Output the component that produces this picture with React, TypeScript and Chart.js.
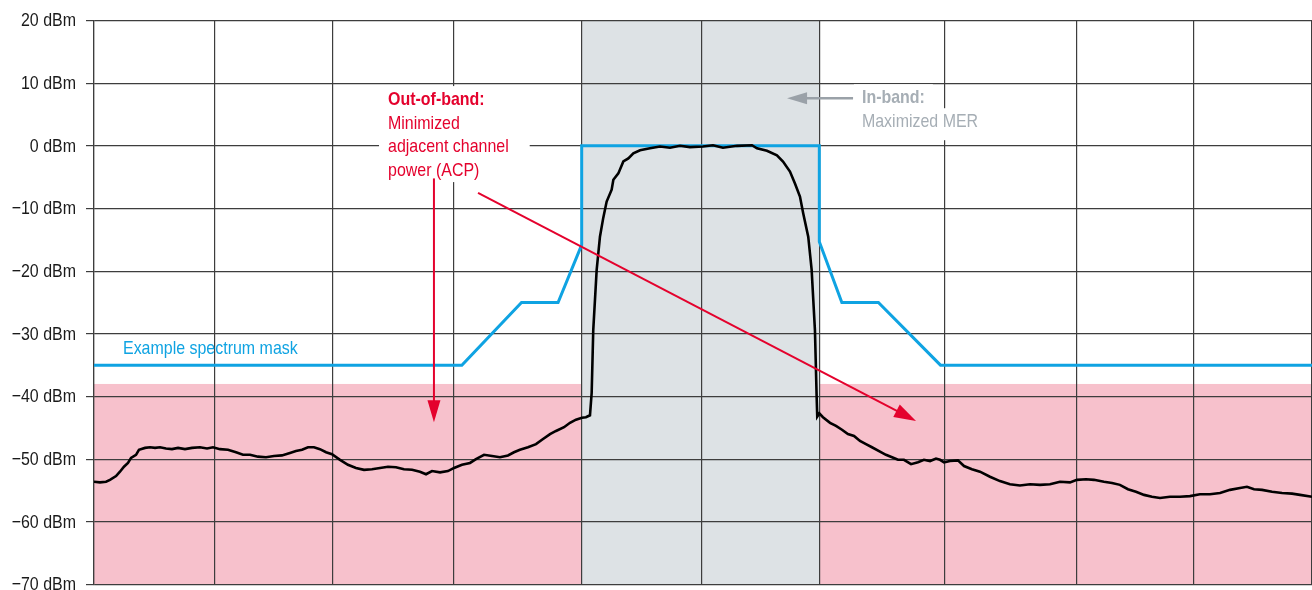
import React, { useEffect, useRef } from 'react';
import { Chart, registerables } from 'chart.js';

Chart.register(...registerables);

// ---------- data ----------
const yTickValues = [-70, -60, -50, -40, -30, -20, -10, 0, 10, 20];
const yTickLabels = ['\u221270 dBm', '\u221260 dBm', '\u221250 dBm', '\u221240 dBm', '\u221230 dBm', '\u221220 dBm', '\u221210 dBm', '0 dBm', '10 dBm', '20 dBm'];
// frequency axis in grid divisions (grid lines as drawn in the reference)
const xGridDivisions = [0, 0.99, 1.96, 2.95, 4.0, 4.99, 5.96, 6.98, 8.07, 9.03, 10];

const traceFreq = [
  0, 0.049, 0.099, 0.131, 0.181, 0.213, 0.246, 0.279, 0.304, 0.345,
  0.369, 0.419, 0.460, 0.501, 0.542, 0.591, 0.640, 0.690, 0.747, 0.805,
  0.870, 0.928, 0.977, 1.034, 1.100, 1.166, 1.223, 1.281, 1.346, 1.412,
  1.478, 1.543, 1.609, 1.658, 1.708, 1.757, 1.806, 1.855, 1.905, 1.954,
  2.020, 2.085, 2.151, 2.217, 2.282, 2.348, 2.414, 2.479, 2.545, 2.611,
  2.676, 2.726, 2.775, 2.841, 2.906, 2.956, 3.021, 3.087, 3.136, 3.202,
  3.268, 3.333, 3.399, 3.448, 3.497, 3.563, 3.629, 3.678, 3.744, 3.793,
  3.859, 3.908, 3.957, 4.006, 4.039, 4.072, 4.086, 4.099, 4.127, 4.154,
  4.181, 4.209, 4.250, 4.264, 4.305, 4.346, 4.387, 4.428, 4.483, 4.565,
  4.647, 4.729, 4.811, 4.893, 5.000, 5.082, 5.164, 5.279, 5.402, 5.443,
  5.525, 5.607, 5.657, 5.714, 5.755, 5.796, 5.823, 5.864, 5.892, 5.919,
  5.933, 5.938, 5.955, 5.985, 6.043, 6.092, 6.141, 6.190, 6.240, 6.289,
  6.338, 6.387, 6.453, 6.502, 6.552, 6.601, 6.650, 6.708, 6.765, 6.814,
  6.864, 6.913, 6.946, 6.979, 7.028, 7.093, 7.143, 7.208, 7.274, 7.356,
  7.438, 7.520, 7.602, 7.685, 7.767, 7.849, 7.931, 8.013, 8.070, 8.144,
  8.210, 8.292, 8.358, 8.423, 8.489, 8.555, 8.621, 8.686, 8.752, 8.834,
  8.916, 8.998, 9.080, 9.162, 9.245, 9.327, 9.409, 9.466, 9.524, 9.590,
  9.672, 9.754, 9.836, 9.902, 10.0,
];

const traceLevel = [
  -53.6, -53.7, -53.6, -53.3, -52.7, -52.0, -51.2, -50.6, -49.8, -49.3,
  -48.5, -48.2, -48.1, -48.2, -48.1, -48.3, -48.4, -48.2, -48.4, -48.2,
  -48.1, -48.3, -48.1, -48.4, -48.5, -48.9, -49.3, -49.3, -49.6, -49.7,
  -49.5, -49.4, -49.0, -48.7, -48.5, -48.1, -48.1, -48.4, -48.9, -49.2,
  -50.1, -50.9, -51.4, -51.7, -51.6, -51.4, -51.2, -51.3, -51.6, -51.7,
  -52.0, -52.4, -51.9, -52.1, -51.9, -51.4, -50.9, -50.6, -50.0, -49.3,
  -49.5, -49.7, -49.4, -48.9, -48.5, -48.1, -47.6, -46.9, -46.0, -45.5,
  -44.9, -44.2, -43.7, -43.4, -43.3, -43.0, -39.4, -29.4, -19.8, -14.5,
  -11.5, -8.9, -7.0, -5.4, -4.4, -2.5, -2.0, -1.2, -0.7, -0.4,
  -0.1, -0.3, 0.0, -0.2, -0.1, 0.1, -0.3, 0.0, 0.1, -0.4,
  -0.8, -1.5, -2.5, -4.1, -6.0, -8.1, -10.8, -14.5, -19.8, -29.4,
  -40.0, -43.2, -42.7, -43.3, -44.2, -44.7, -45.3, -46.0, -46.3, -47.1,
  -47.6, -48.1, -48.8, -49.3, -49.7, -50.1, -50.1, -50.8, -50.5, -50.1,
  -50.3, -49.9, -50.1, -50.5, -50.3, -50.2, -51.1, -51.6, -52.0, -52.8,
  -53.5, -54.0, -54.2, -54.0, -54.1, -54.0, -53.6, -53.7, -53.3, -53.2,
  -53.3, -53.6, -53.8, -54.1, -54.8, -55.2, -55.7, -56.0, -56.2, -56.0,
  -56.0, -55.9, -55.6, -55.6, -55.4, -54.9, -54.6, -54.4, -54.8, -54.9,
  -55.2, -55.4, -55.5, -55.7, -56.0,
];

const maskFreq = [0, 3.02, 3.51, 3.81, 4.004, 4.004, 5.955, 5.955, 6.14, 6.44, 6.95, 10];
const maskLevel = [-35, -35, -25, -25, -15.8, 0, 0, -15.3, -25, -25, -35, -35];

const inBandFreq = [4.004, 5.957];
const outOfBandTop = -38;

const redTextLines = ['Out-of-band:', 'Minimized', 'adjacent channel', 'power (ACP)'];
const grayTextLines = ['In-band:', 'Maximized MER'];
const maskLabel = 'Example spectrum mask';

// ---------- styling / annotation config ----------
const FONT = '"Liberation Sans", Arial, sans-serif';
const FSIZE = 19;
const NARROW = 0.84; // horizontal squeeze to imitate a condensed face
const RED = '#e4022d';
const GRAYTXT = '#a6aeb5';
const BLUE = '#0fa3e2';
const GRID = '#3d3d3d';

const annot = {
  red: { x: 2.414, y: 7.3, gap: 23.5 },
  gray: { x: 6.305, y: 7.6, gap: 24 },
  mask: { x: 0.238, y: -32.4 },
  arrowDown: { x1: 2.791, y1: -5.2, x2: 2.791, y2: -44.1 },
  arrowDiag: { x1: 3.153, y1: -7.5, x2: 6.749, y2: -43.9 },
  arrowGray: { x1: 6.232, y1: 7.6, x2: 5.69, y2: 7.6 },
};

function setFont(ctx: CanvasRenderingContext2D, bold: boolean) {
  ctx.font = `${bold ? 'bold ' : ''}${FSIZE}px ${FONT}`;
}

function narrowText(ctx: CanvasRenderingContext2D, t: string, x: number, y: number, align: CanvasTextAlign) {
  ctx.save();
  ctx.translate(x, y);
  ctx.scale(NARROW, 1);
  ctx.textAlign = align;
  ctx.textBaseline = 'middle';
  ctx.fillText(t, 0, 0);
  ctx.restore();
}

function drawArrow(ctx: CanvasRenderingContext2D, x1: number, y1: number, x2: number, y2: number, color: string, len: number, half: number, lw: number) {
  const a = Math.atan2(y2 - y1, x2 - x1);
  const bx = x2 - Math.cos(a) * len;
  const by = y2 - Math.sin(a) * len;
  ctx.save();
  ctx.strokeStyle = color;
  ctx.fillStyle = color;
  ctx.lineWidth = lw;
  ctx.beginPath();
  ctx.moveTo(x1, y1);
  ctx.lineTo(bx + Math.cos(a) * 2, by + Math.sin(a) * 2);
  ctx.stroke();
  ctx.beginPath();
  ctx.moveTo(x2, y2);
  ctx.lineTo(bx + Math.sin(a) * half, by - Math.cos(a) * half);
  ctx.lineTo(bx - Math.sin(a) * half, by + Math.cos(a) * half);
  ctx.closePath();
  ctx.fill();
  ctx.restore();
}

const bandsPlugin = {
  id: 'bands',
  beforeDraw(chart: any) {
    const { ctx, chartArea } = chart;
    const x = chart.scales.x;
    const y = chart.scales.y;
    ctx.save();
    const yTop = y.getPixelForValue(outOfBandTop);
    ctx.fillStyle = '#f7c1cc';
    ctx.fillRect(chartArea.left, yTop, chartArea.right - chartArea.left, chartArea.bottom - yTop);
    const x0 = x.getPixelForValue(inBandFreq[0]);
    const x1 = x.getPixelForValue(inBandFreq[1]);
    ctx.fillStyle = '#dde2e5';
    ctx.fillRect(x0, chartArea.top, x1 - x0, chartArea.bottom - chartArea.top);
    ctx.restore();
  },
};

// y-axis tick labels drawn at the scale's tick positions with a condensed look
const yLabelPlugin = {
  id: 'yLabels',
  afterDraw(chart: any) {
    const { ctx } = chart;
    const y = chart.scales.y;
    ctx.save();
    setFont(ctx, false);
    ctx.fillStyle = '#1a1a1a';
    yTickValues.forEach((v, i) => {
      narrowText(ctx, yTickLabels[i], y.left + y.width - 18, y.getPixelForValue(v) + 0.5, 'right');
    });
    ctx.restore();
  },
};

const annotationPlugin = {
  id: 'annotations',
  beforeDatasetsDraw(chart: any) {
    const { ctx } = chart;
    const x = chart.scales.x;
    const y = chart.scales.y;
    ctx.save();
    ctx.fillStyle = '#ffffff';
    const rx = x.getPixelForValue(annot.red.x);
    const ry = y.getPixelForValue(annot.red.y);
    redTextLines.forEach((t, i) => {
      setFont(ctx, i === 0);
      const w = ctx.measureText(t).width * NARROW;
      ctx.fillRect(rx - 9, ry + i * annot.red.gap - 14, w + 30, annot.red.gap + 2);
    });
    const gx = x.getPixelForValue(annot.gray.x);
    const gy = y.getPixelForValue(annot.gray.y);
    grayTextLines.forEach((t, i) => {
      setFont(ctx, i === 0);
      const w = ctx.measureText(t).width * NARROW;
      ctx.fillRect(gx - 8, gy + i * annot.gray.gap - 14, w + 16, annot.gray.gap + 8);
    });
    ctx.restore();
  },
  afterDatasetsDraw(chart: any) {
    const { ctx } = chart;
    const x = chart.scales.x;
    const y = chart.scales.y;
    const px = (v: number) => x.getPixelForValue(v);
    const py = (v: number) => y.getPixelForValue(v);
    ctx.save();
    ctx.fillStyle = RED;
    redTextLines.forEach((t, i) => {
      setFont(ctx, i === 0);
      narrowText(ctx, t, px(annot.red.x), py(annot.red.y) + i * annot.red.gap, 'left');
    });
    ctx.fillStyle = GRAYTXT;
    grayTextLines.forEach((t, i) => {
      setFont(ctx, i === 0);
      narrowText(ctx, t, px(annot.gray.x), py(annot.gray.y) + i * annot.gray.gap, 'left');
    });
    setFont(ctx, false);
    ctx.fillStyle = BLUE;
    narrowText(ctx, maskLabel, px(annot.mask.x), py(annot.mask.y), 'left');
    const d = annot.arrowDown;
    drawArrow(ctx, px(d.x1), py(d.y1), px(d.x2), py(d.y2), RED, 22, 6.5, 2);
    const g = annot.arrowDiag;
    drawArrow(ctx, px(g.x1), py(g.y1), px(g.x2), py(g.y2), RED, 22, 7, 2);
    const a = annot.arrowGray;
    drawArrow(ctx, px(a.x1), py(a.y1), px(a.x2), py(a.y2), '#9aa1a8', 20, 6, 2.5);
    ctx.restore();
  },
};

export default function App() {
  const ref = useRef<HTMLCanvasElement | null>(null);
  useEffect(() => {
    if (!ref.current) return;
    const chart = new Chart(ref.current, {
      type: 'line',
      data: {
        datasets: [
          {
            label: 'Spectrum',
            data: traceFreq.map((f, i) => ({ x: f, y: traceLevel[i] })),
            borderColor: '#000000',
            borderWidth: 2.6,
            pointRadius: 0,
            tension: 0,
            fill: false,
          },
          {
            label: 'Mask',
            data: maskFreq.map((f, i) => ({ x: f, y: maskLevel[i] })),
            borderColor: BLUE,
            borderWidth: 3,
            pointRadius: 0,
            tension: 0,
            fill: false,
          },
        ],
      },
      options: {
        animation: false,
        responsive: false,
        devicePixelRatio: 1,
        layout: { padding: { top: 20.5, bottom: 15.5, left: 0, right: 0 } },
        plugins: { legend: { display: false }, tooltip: { enabled: false } },
        scales: {
          x: {
            type: 'linear',
            min: 0,
            max: 10,
            afterBuildTicks: (s: any) => {
              s.ticks = xGridDivisions.map((v) => ({ value: v }));
            },
            afterFit: (s: any) => {
              s.height = 0;
            },
            ticks: { display: false },
            grid: { color: GRID, lineWidth: 1.2, drawTicks: false },
            border: { display: false },
          },
          y: {
            type: 'linear',
            min: -70,
            max: 20,
            afterBuildTicks: (s: any) => {
              s.ticks = yTickValues.map((v) => ({ value: v }));
            },
            afterFit: (s: any) => {
              s.width = 94;
            },
            ticks: { display: false },
            grid: { color: GRID, lineWidth: 1.2, tickLength: 8 },
            border: { color: GRID, width: 1.2 },
          },
        },
      },
      plugins: [bandsPlugin, annotationPlugin, yLabelPlugin],
    });
    return () => chart.destroy();
  }, []);
  return (
    <div style={{ position: 'fixed', left: 0, top: 0, width: 1312, height: 590, overflow: 'hidden', background: '#ffffff' }}>
      <canvas ref={ref} width={1312} height={600} style={{ display: 'block' }} />
    </div>
  );
}
